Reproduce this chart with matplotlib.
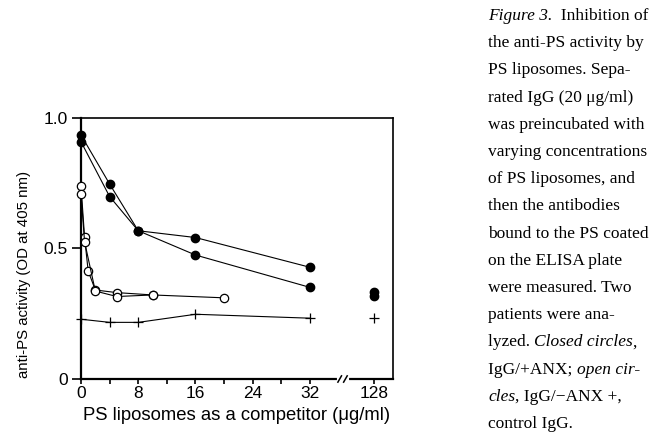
import matplotlib
matplotlib.use("Agg")
import matplotlib.pyplot as plt

# data (x in ug/ml, y = OD at 405 nm)
closed_x = [0, 4, 8, 16, 32]
closed_a = [0.935, 0.747, 0.568, 0.542, 0.428]
closed_b = [0.909, 0.699, 0.568, 0.475, 0.351]
closed_128 = [0.334, 0.319]

open_a_x = [0, 0.5, 1, 2, 5, 10, 20]
open_a = [0.739, 0.543, 0.414, 0.341, 0.331, 0.322, 0.311]
open_b_x = [0, 0.5, 2, 5, 10]
open_b = [0.708, 0.526, 0.337, 0.316, 0.322]

plus_x = [0, 4, 8, 16, 32]
plus_y = [0.229, 0.217, 0.217, 0.248, 0.233]
plus_128 = [0.233]

xtick_vals = [0, 4, 8, 12, 16, 20, 24, 28, 32]
xtick_labels = ["0", "", "8", "", "16", "", "24", "", "32"]
ytick_vals = [0, 0.5, 1.0]
ytick_labels = ["0", "0.5", "1.0"]

# where the 128 point sits on the broken axis
X128 = 40.9
XBREAK = 36.6

caption = [
    [("Figure 3.", "italic"), ("  Inhibition of", "normal")],
    [("the anti-PS activity by", "normal")],
    [("PS liposomes. Sepa-", "normal")],
    [("rated IgG (20 \u03bcg/ml)", "normal")],
    [("was preincubated with", "normal")],
    [("varying concentrations", "normal")],
    [("of PS liposomes, and", "normal")],
    [("then the antibodies", "normal")],
    [("bound to the PS coated", "normal")],
    [("on the ELISA plate", "normal")],
    [("were measured. Two", "normal")],
    [("patients were ana-", "normal")],
    [("lyzed. ", "normal"), ("Closed circles", "italic"), (",", "normal")],
    [("IgG/+ANX; ", "normal"), ("open cir-", "italic")],
    [("cles", "italic"), (", IgG/\u2212ANX +,", "normal")],
    [("control IgG.", "normal")],
]

plt.rcParams["font.family"] = ["Liberation Sans", "DejaVu Sans"]

W, H = 652, 433
fig = plt.figure(figsize=(W / 100, H / 100), dpi=100)
ax = fig.add_axes([81 / W, 54 / H, 312 / W, 261 / H])

lw = 0.8
ax.plot(closed_x, closed_a, "-o", color="black", lw=lw, ms=6, mfc="black", clip_on=False, zorder=5)
ax.plot(closed_x, closed_b, "-o", color="black", lw=lw, ms=6, mfc="black", clip_on=False, zorder=5)
ax.plot([X128] * len(closed_128), closed_128, "o", color="black", ms=6, clip_on=False, zorder=5)

ax.plot(open_a_x, open_a, "-o", color="black", lw=lw, ms=6, mfc="white", mew=0.9, clip_on=False, zorder=5)
ax.plot(open_b_x, open_b, "-o", color="black", lw=lw, ms=6, mfc="white", mew=0.9, clip_on=False, zorder=5)

ax.plot(plus_x, plus_y, "-+", color="black", lw=lw, ms=7, mew=0.9, clip_on=False, zorder=5)
ax.plot([X128] * len(plus_128), plus_128, "+", color="black", ms=7, mew=0.9, clip_on=False, zorder=5)

ax.set_xlim(0, 43.6)
ax.set_ylim(0, 1.0)
ax.set_xticks(xtick_vals + [X128])
ax.set_xticklabels(xtick_labels + ["128"], fontsize=12.5)
ax.set_yticks(ytick_vals)
ax.set_yticklabels(ytick_labels, fontsize=12.5)
ax.tick_params(axis="x", direction="out", length=3.5, width=1.2, pad=1.5)
ax.tick_params(axis="y", direction="out", length=6.5, width=1.2, pad=3)

for side in ["left", "bottom"]:
    ax.spines[side].set_linewidth(1.6)
for side in ["top", "right"]:
    ax.spines[side].set_linewidth(1.2)

# axis break marks
tr = ax.get_xaxis_transform()
ax.plot([XBREAK - 0.55, XBREAK + 0.55], [0, 0], color="white", lw=3, transform=tr, clip_on=False, zorder=6)
for dx in (-0.45, 0.35):
    ax.plot([XBREAK + dx - 0.25, XBREAK + dx + 0.25], [-0.012, 0.012], color="black", lw=1.1,
            transform=tr, clip_on=False, zorder=7)

ax.set_xlabel("PS liposomes as a competitor (\u03bcg/ml)", fontsize=13.3, labelpad=4.5)
ax.set_ylabel("anti-PS activity (OD at 405 nm)", fontsize=10.8)
ax.yaxis.set_label_coords(-0.16, 0.40)

# caption on the right, with italic runs
renderer = fig.canvas.get_renderer()
x0 = 488 / W
for i, line in enumerate(caption):
    y = 1 - (20 + i * 27.2) / H
    x = x0
    for txt, style in line:
        t = fig.text(x, y, txt, fontsize=12.5, family="Liberation Serif", style=style, va="baseline")
        w = t.get_window_extent(renderer).width
        if style == "italic":
            w -= 0.5
        x += w / W

fig.savefig("out.png", dpi=100)
